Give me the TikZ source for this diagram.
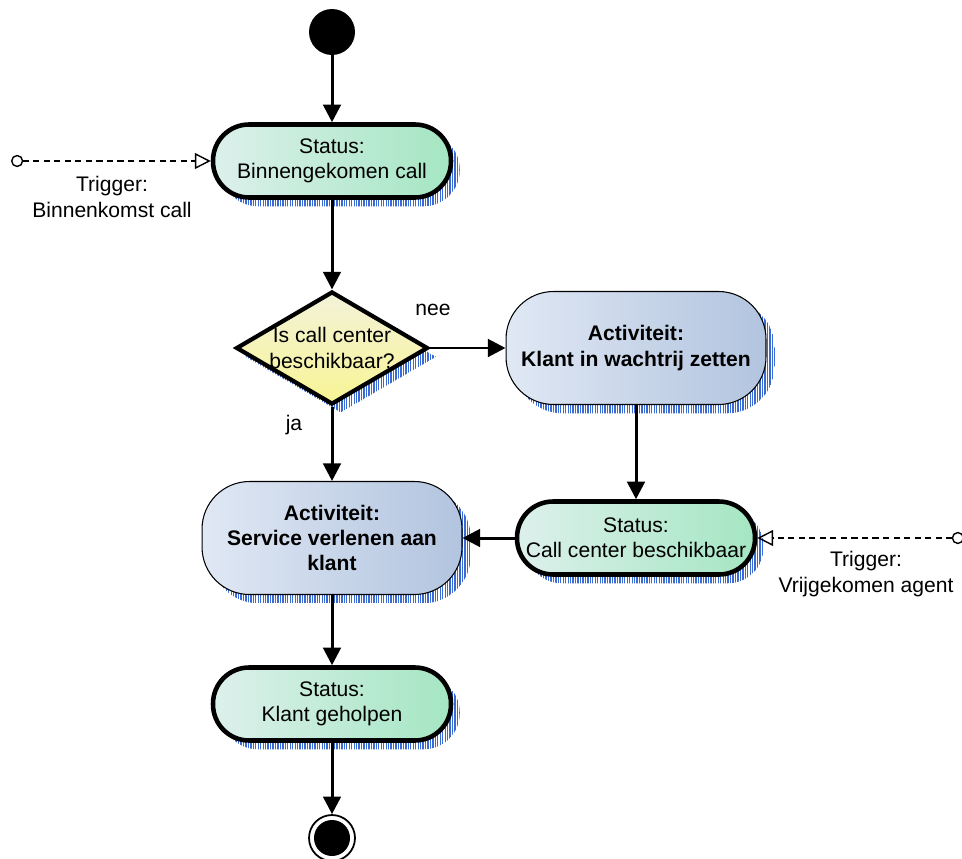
\documentclass[tikz,border=0pt]{standalone}
\usepackage{fontspec}
\setmainfont{Liberation Sans}
\usepackage{tikz}
\usetikzlibrary{arrows.meta,calc,patterns.meta,positioning,shadows,shapes.geometric}

\definecolor{statl}{HTML}{DDF0EC}
\definecolor{statr}{HTML}{A4E6C2}
\definecolor{actl}{HTML}{E0E8F4}
\definecolor{actr}{HTML}{B2C4DF}
\definecolor{decl}{HTML}{F3F3DA}
\definecolor{decr}{HTML}{F8F494}
\definecolor{hatch}{HTML}{3A6AD4}

\tikzset{
  hatched/.style={general shadow={shadow xshift=5pt, shadow yshift=-5pt,
      pattern={Lines[angle=90,distance=1.4pt,line width=0.75pt]},
      pattern color=hatch, draw=none}},
  status/.style={rectangle, rounded corners=0.72cm, draw, line width=2.6pt,
    minimum width=4.76cm, minimum height=1.46cm, inner xsep=0pt,
    left color=statl, right color=statr, align=center, hatched},
  activity/.style={rectangle, rounded corners=0.95cm, draw, line width=0.6pt,
    minimum width=5.2cm, minimum height=2.26cm, inner xsep=0pt,
    left color=actl, right color=actr, align=center, hatched,
    font=\fontsize{12}{14.3}\selectfont\bfseries},
  decision/.style={diamond, draw, line width=2.4pt, minimum width=3.84cm,
    minimum height=2.26cm, inner sep=0pt, top color=decl, bottom color=decr, hatched},
  start/.style={circle, fill=black, minimum size=0.92cm, inner sep=0pt},
  stop/.style={circle, draw, line width=1pt, fill=white, minimum size=0.92cm, inner sep=0pt,
    path picture={\fill[black] (path picture bounding box.center) circle (0.36cm);}},
  flow/.style={-{Triangle[length=10pt,width=10pt]}, line width=1.7pt},
  trigger/.style={{Circle[open,length=7pt]}-{Triangle[open,length=9pt,width=9pt]},
    line width=0.8pt, dash pattern=on 3.5pt off 2.5pt}
}

\begin{document}
\begin{tikzpicture}[x=0.02cm, y=-0.02cm, font=\fontsize{12}{14.3}\selectfont]
  \useasboundingbox (0,0) rectangle (962,858);

  % left column
  \node[start] (init) at (332,32) {};
  \node[status] (recv) at (332,161) {Status:\\Binnengekomen call};
  \node[decision] (check) at (332,348) {};
  \node[align=center] (checklbl) at (check) {Is call center\\beschikbaar?};
  \node[activity] (serve) at (332,538) {Activiteit:\\Service verlenen aan\\klant};
  \node[status] (done) at (332,704) {Status:\\Klant geholpen};
  \node[stop] (final) at (332,838) {};

  % right column
  \node[activity] (queue) at (636,348) {Activiteit:\\Klant in wachtrij zetten};
  \node[status] (free) at (636,538) {Status:\\Call center beschikbaar};

  % triggers
  \coordinate (trigA) at (11,161);
  \node[align=center] (trigAlbl) at (112,197) {Trigger:\\Binnenkomst call};
  \coordinate (trigB) at (964,538);
  \node[align=center] (trigBlbl) at (866,574) {Trigger:\\Vrijgekomen agent};

  % guard labels
  \node (nee) at (433,310) {nee};
  \node (ja) at (294,425) {ja};

  \draw[flow] (init) -- (recv);
  \draw[trigger] (trigA) -- (recv);
  \draw[flow] (recv) -- (check);
  \draw[flow] (check) -- (queue);
  \draw[flow] (check) -- (serve);
  \draw[flow] (queue) -- (free);
  \draw[trigger] (trigB) -- (free);
  \draw[flow] (free) -- (serve);
  \draw[flow] (serve) -- (done);
  \draw[flow] (done) -- (final);
\end{tikzpicture}
\end{document}
